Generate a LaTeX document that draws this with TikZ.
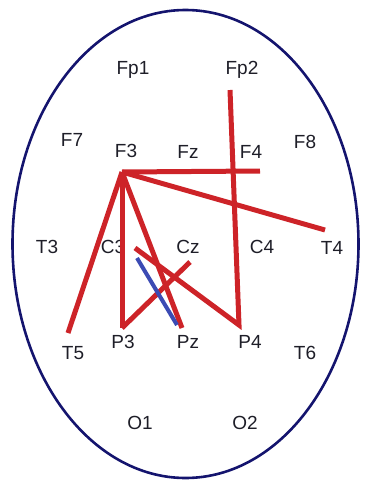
\documentclass[tikz,border=0pt]{standalone}
\usepackage{fontspec}
\setmainfont{Liberation Sans}
\definecolor{headblue}{RGB}{20,20,110}
\definecolor{linkred}{RGB}{205,35,40}
\definecolor{linkblue}{RGB}{60,75,180}
\definecolor{labgray}{RGB}{30,30,40}
\tikzset{
  lab/.style={text=labgray,font=\fontsize{19}{21}\selectfont,inner sep=0pt},
  redlink/.style={linkred,line width=5pt},
  bluelink/.style={linkblue,line width=4pt}
}
\begin{document}
\begin{tikzpicture}[x=1pt,y=-1pt]
\useasboundingbox (0,0) rectangle (369,482);
% head outline
\draw[headblue,line width=2.6pt](185.5,244)ellipse (173 and 234);
% electrode labels
\foreach \n/\x/\y in {Fp1/133/70,Fp2/242/70,F7/72/140,F8/305/142,
  F3/126/151,Fz/188/152,F4/251/152,T3/47/247,C3/113/247,Cz/188/247,
  C4/262/247,T4/332/248,T5/73/353,P3/123/342,Pz/188/342,P4/250/342,
  T6/305/353,O1/140/423,O2/245/423}
{
    \node[lab] (\n) at (\x,\y) {\n};
}
% link end points
\coordinate (hub) at (122,172);
\coordinate (f4end) at (260,171);
\coordinate (t4end) at (325,230);
\coordinate (t5end) at (68,333);
\coordinate (p3end) at (122,328);
\coordinate (pzend) at (182,328);
\coordinate (fp2end) at (230,90);
\coordinate (p4end) at (239,325);
\coordinate (c3end) at (135,248);
\coordinate (czend) at (190,262);
\coordinate (c3blue) at (137,258);
\coordinate (pzblue) at (177,325);
% red links
\draw[redlink](hub)--(f4end);
\draw[redlink](hub)--(t4end);
\draw[redlink](hub)--(t5end);
\draw[redlink](hub)--(p3end);
\draw[redlink](hub)--(pzend);
\draw[redlink](fp2end)--(p4end)--(c3end);
\draw[redlink](p3end)--(czend);
% blue link
\draw[bluelink](c3blue)--(pzblue);

\end{tikzpicture}
\end{document}
